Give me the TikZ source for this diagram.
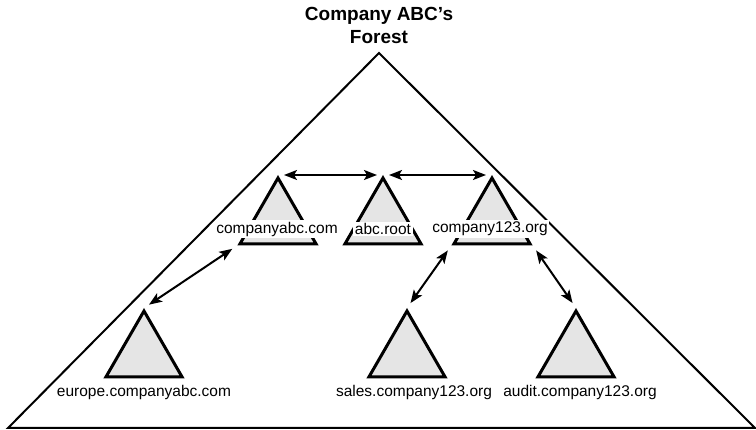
\documentclass[tikz,border=0pt]{standalone}
\usepackage{fontspec}
\setmainfont{Liberation Sans}
\usetikzlibrary{shapes.geometric,arrows.meta}

\tikzset{
	domtri/.style={draw, line width=3pt, fill=black!10, regular polygon, regular polygon sides=3, minimum size=88pt, inner sep=0pt},
	dname/.style={fill=white, inner sep=1.5pt, font=\fontsize{15.5}{18}\selectfont},
	trust/.style={{Stealth[length=13pt,width=10pt,inset=3pt]}-{Stealth[length=13pt,width=10pt,inset=3pt]}, line width=2pt, shorten <=6pt, shorten >=6pt}
}

\begin{document}
\begin{tikzpicture}[x=1pt,y=-1pt]
	\useasboundingbox ( 0, 0 ) rectangle ( 756, 430 );

	% лес
	\node [font=\bfseries\fontsize{19}{23}\selectfont, align=center] (title) at ( 379, 25 ) {Company ABC's\\Forest};
	\draw [line width=2pt, line join=miter] ( 379, 53 ) -- ( 8, 428 ) -- ( 755, 428 ) -- cycle;

	% домены
	\node [domtri] (companyabc) at ( 278, 222 ) {};
	\node [domtri] (abcroot)    at ( 383, 222 ) {};
	\node [domtri] (company123) at ( 492, 222 ) {};
	\node [domtri] (europe)     at ( 144, 355 ) {};
	\node [domtri] (sales)      at ( 407, 355 ) {};
	\node [domtri] (audit)      at ( 576, 355 ) {};

	% имена доменов
	\node [dname] (companyabc-name) at ( 277, 229 ) {companyabc.com};
	\node [dname] (abcroot-name)    at ( 383, 229 ) {abc.root};
	\node [dname] (company123-name) at ( 490, 229 ) {company123.org};
	\node [dname] (europe-name)     at ( 144, 392 ) {europe.companyabc.com};
	\node [dname] (sales-name)      at ( 414, 392 ) {sales.company123.org};
	\node [dname] (audit-name)      at ( 580, 392 ) {audit.company123.org};

	% доверие
	\draw [trust] (companyabc.corner 1) -- (abcroot.corner 1);
	\draw [trust] (abcroot.corner 1) -- (company123.corner 1);
	\draw [trust] (companyabc.corner 2) -- (europe.corner 1);
	\draw [trust] (company123.corner 2) -- (sales.corner 1);
	\draw [trust] (company123.corner 3) -- (audit.corner 1);
\end{tikzpicture}
\end{document}
